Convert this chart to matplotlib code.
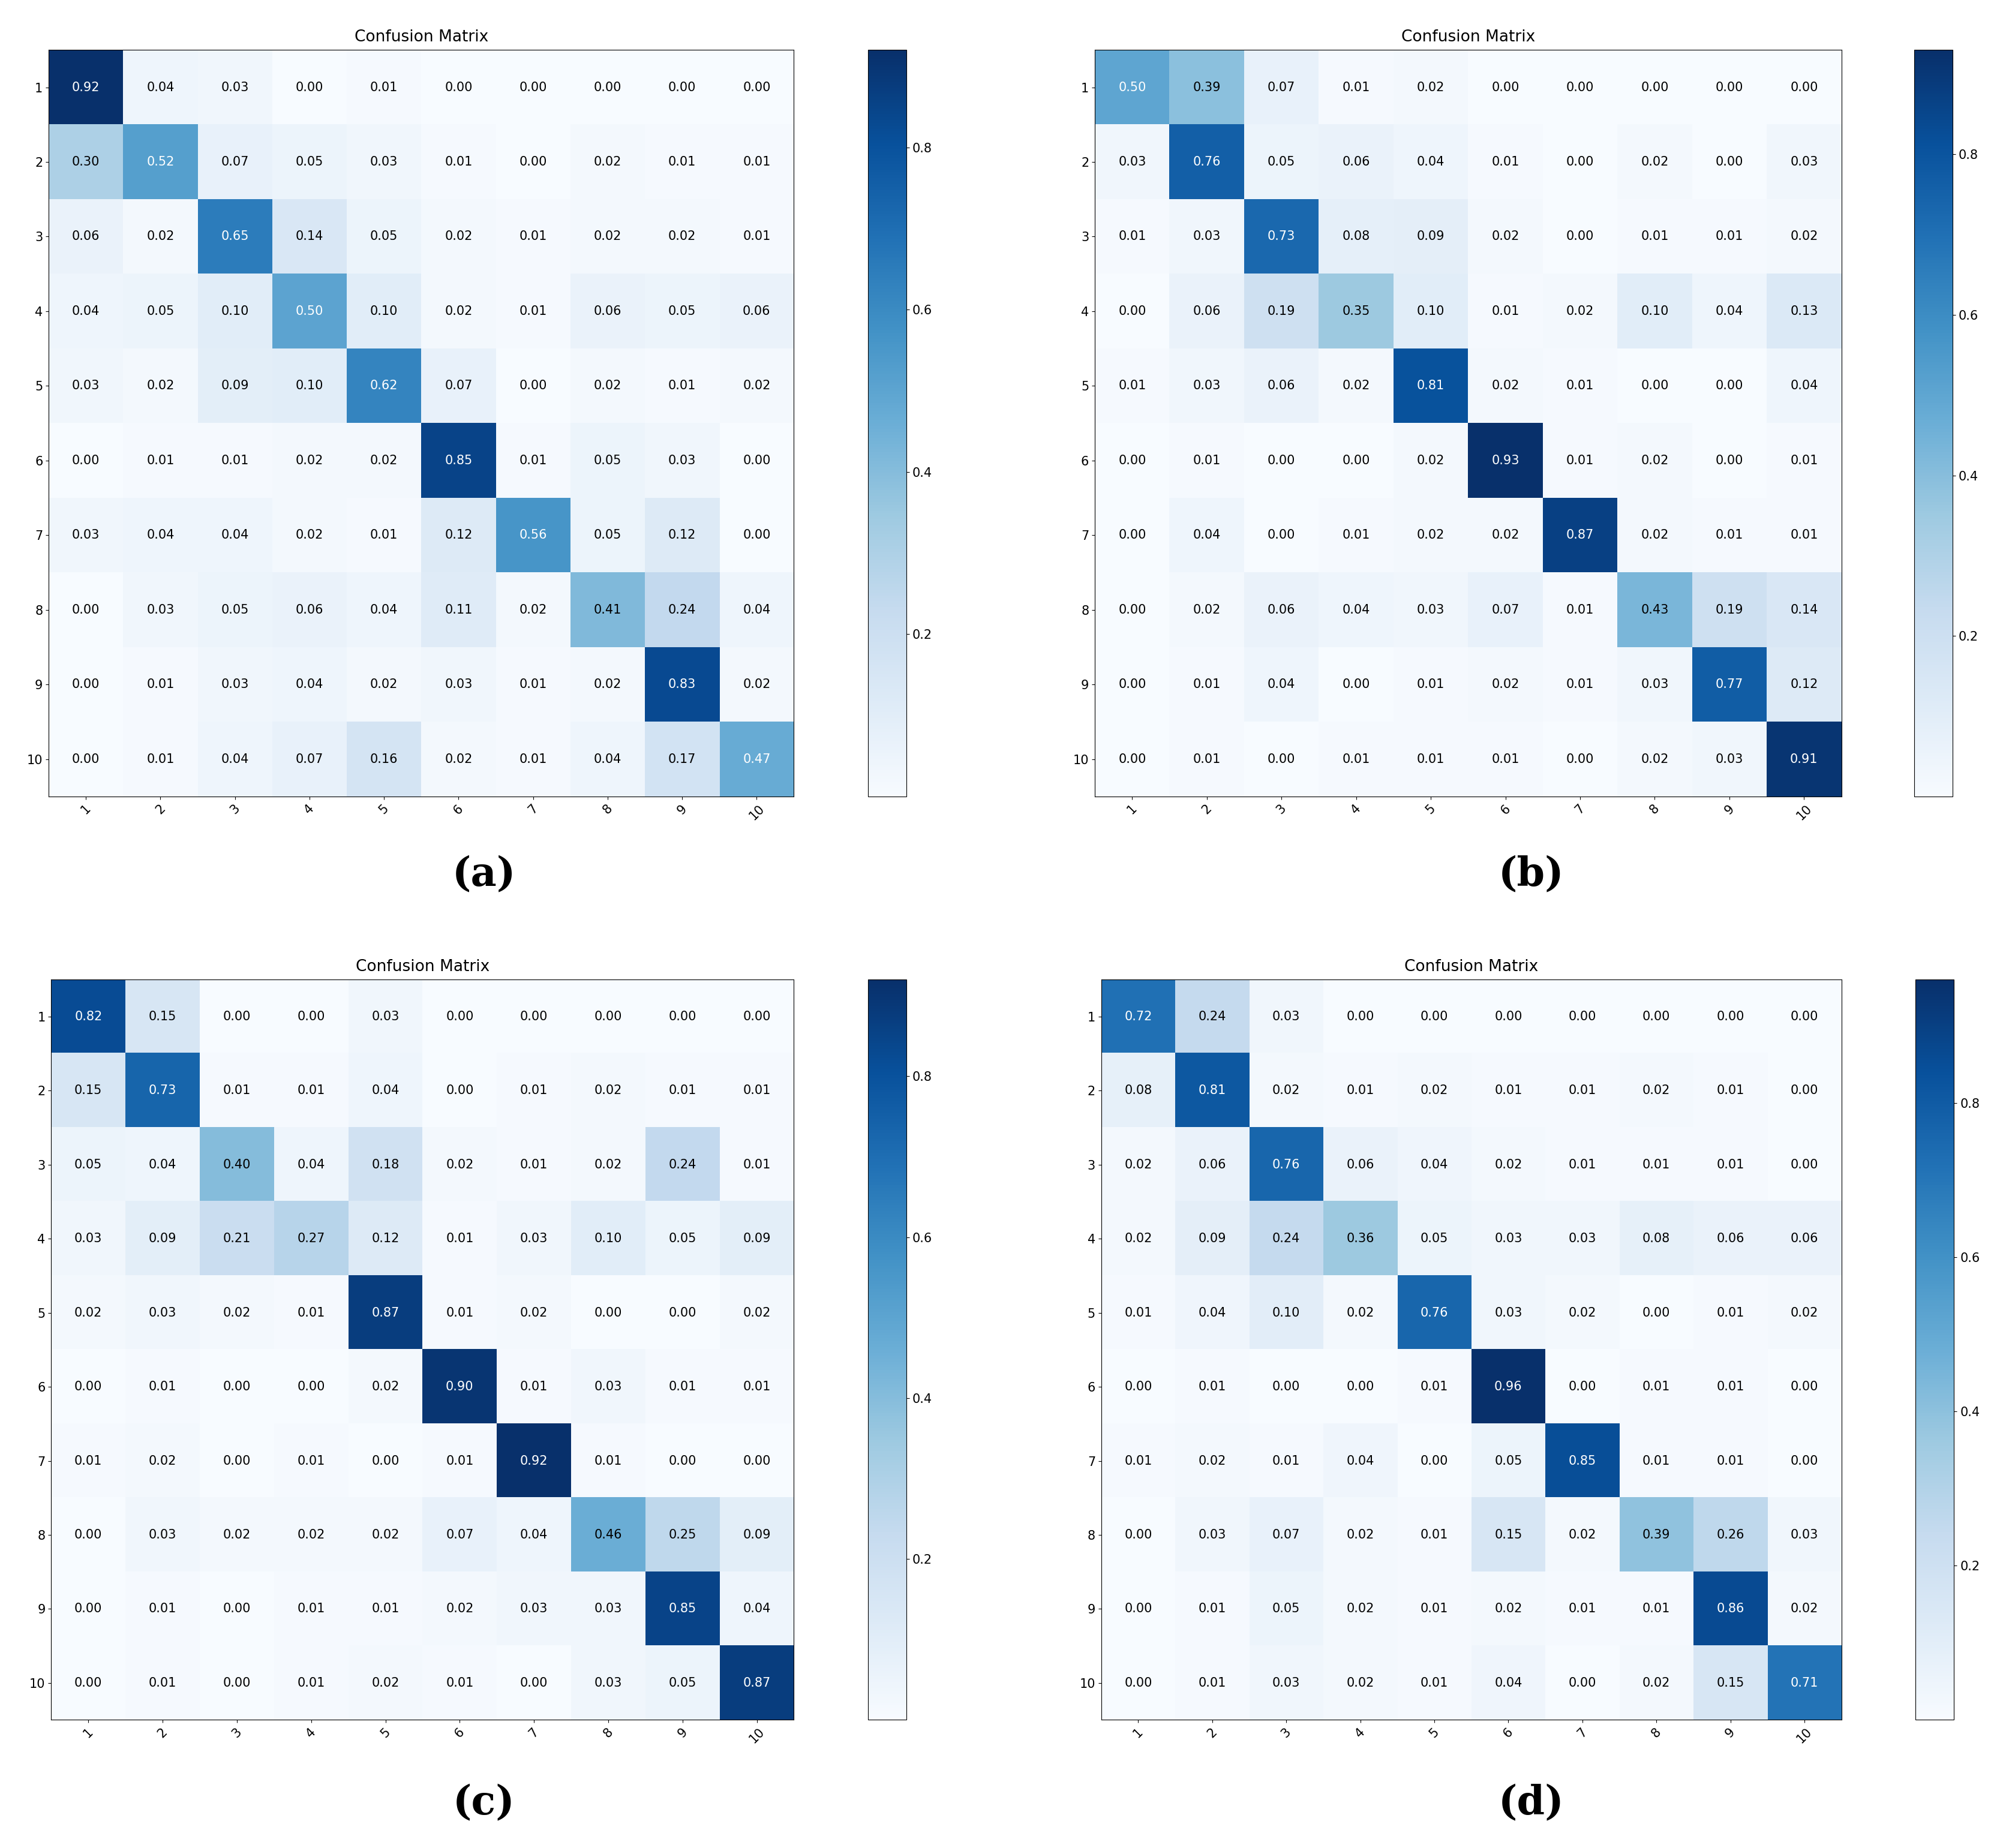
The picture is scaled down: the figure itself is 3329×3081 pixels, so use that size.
import matplotlib
matplotlib.use("Agg")
import matplotlib.pyplot as plt
import numpy as np

labels = [str(i) for i in range(1, 11)]

cm_a = [
[0.92,0.04,0.03,0.00,0.01,0.00,0.00,0.00,0.00,0.00],
[0.30,0.52,0.07,0.05,0.03,0.01,0.00,0.02,0.01,0.01],
[0.06,0.02,0.65,0.14,0.05,0.02,0.01,0.02,0.02,0.01],
[0.04,0.05,0.10,0.50,0.10,0.02,0.01,0.06,0.05,0.06],
[0.03,0.02,0.09,0.10,0.62,0.07,0.00,0.02,0.01,0.02],
[0.00,0.01,0.01,0.02,0.02,0.85,0.01,0.05,0.03,0.00],
[0.03,0.04,0.04,0.02,0.01,0.12,0.56,0.05,0.12,0.00],
[0.00,0.03,0.05,0.06,0.04,0.11,0.02,0.41,0.24,0.04],
[0.00,0.01,0.03,0.04,0.02,0.03,0.01,0.02,0.83,0.02],
[0.00,0.01,0.04,0.07,0.16,0.02,0.01,0.04,0.17,0.47]]

cm_b = [
[0.50,0.39,0.07,0.01,0.02,0.00,0.00,0.00,0.00,0.00],
[0.03,0.76,0.05,0.06,0.04,0.01,0.00,0.02,0.00,0.03],
[0.01,0.03,0.73,0.08,0.09,0.02,0.00,0.01,0.01,0.02],
[0.00,0.06,0.19,0.35,0.10,0.01,0.02,0.10,0.04,0.13],
[0.01,0.03,0.06,0.02,0.81,0.02,0.01,0.00,0.00,0.04],
[0.00,0.01,0.00,0.00,0.02,0.93,0.01,0.02,0.00,0.01],
[0.00,0.04,0.00,0.01,0.02,0.02,0.87,0.02,0.01,0.01],
[0.00,0.02,0.06,0.04,0.03,0.07,0.01,0.43,0.19,0.14],
[0.00,0.01,0.04,0.00,0.01,0.02,0.01,0.03,0.77,0.12],
[0.00,0.01,0.00,0.01,0.01,0.01,0.00,0.02,0.03,0.91]]

cm_c = [
[0.82,0.15,0.00,0.00,0.03,0.00,0.00,0.00,0.00,0.00],
[0.15,0.73,0.01,0.01,0.04,0.00,0.01,0.02,0.01,0.01],
[0.05,0.04,0.40,0.04,0.18,0.02,0.01,0.02,0.24,0.01],
[0.03,0.09,0.21,0.27,0.12,0.01,0.03,0.10,0.05,0.09],
[0.02,0.03,0.02,0.01,0.87,0.01,0.02,0.00,0.00,0.02],
[0.00,0.01,0.00,0.00,0.02,0.90,0.01,0.03,0.01,0.01],
[0.01,0.02,0.00,0.01,0.00,0.01,0.92,0.01,0.00,0.00],
[0.00,0.03,0.02,0.02,0.02,0.07,0.04,0.46,0.25,0.09],
[0.00,0.01,0.00,0.01,0.01,0.02,0.03,0.03,0.85,0.04],
[0.00,0.01,0.00,0.01,0.02,0.01,0.00,0.03,0.05,0.87]]

cm_d = [
[0.72,0.24,0.03,0.00,0.00,0.00,0.00,0.00,0.00,0.00],
[0.08,0.81,0.02,0.01,0.02,0.01,0.01,0.02,0.01,0.00],
[0.02,0.06,0.76,0.06,0.04,0.02,0.01,0.01,0.01,0.00],
[0.02,0.09,0.24,0.36,0.05,0.03,0.03,0.08,0.06,0.06],
[0.01,0.04,0.10,0.02,0.76,0.03,0.02,0.00,0.01,0.02],
[0.00,0.01,0.00,0.00,0.01,0.96,0.00,0.01,0.01,0.00],
[0.01,0.02,0.01,0.04,0.00,0.05,0.85,0.01,0.01,0.00],
[0.00,0.03,0.07,0.02,0.01,0.15,0.02,0.39,0.26,0.03],
[0.00,0.01,0.05,0.02,0.01,0.02,0.01,0.01,0.86,0.02],
[0.00,0.01,0.03,0.02,0.01,0.04,0.00,0.02,0.15,0.71]]

panels = [("(a)", cm_a), ("(b)", cm_b), ("(c)", cm_c), ("(d)", cm_d)]
W, H = 1560.0, 1443.0
# display-pixel boxes: axes left, right, top, bottom; colorbar left
boxes = [(38, 620, 39, 622, 678), (855, 1438, 39, 622, 1495),
         (40, 620, 765, 1343, 678), (860, 1438, 765, 1343, 1496)]
label_pos = [(378, 683), (1196, 683), (378, 1408), (1196, 1408)]

fig = plt.figure(figsize=(33.30, 30.81), dpi=100)
for (name, cm), (l, r, t, b, cl), (lx, ly) in zip(panels, boxes, label_pos):
    cm = np.array(cm)
    ax = fig.add_axes([l / W, 1 - b / H, (r - l) / W, (b - t) / H])
    im = ax.imshow(cm, cmap="Blues", aspect="auto", interpolation="nearest")
    ax.set_title("Confusion Matrix", fontsize=19, pad=10)
    ax.set_xticks(range(10))
    ax.set_xticklabels(labels, rotation=45, fontsize=15)
    ax.set_yticks(range(10))
    ax.set_yticklabels(labels, fontsize=15)
    thresh = cm.max() / 2
    for i in range(10):
        for j in range(10):
            ax.text(j, i, f"{cm[i, j]:.2f}", ha="center", va="center", fontsize=15,
                    color="white" if cm[i, j] > thresh else "black")
    cax = fig.add_axes([cl / W, 1 - b / H, 30 / W, (b - t) / H])
    cb = fig.colorbar(im, cax=cax)
    cb.set_ticks([0.2, 0.4, 0.6, 0.8])
    cb.ax.tick_params(labelsize=15)
    fig.text(lx / W, 1 - ly / H, name, ha="center", va="center", fontsize=48,
             family="DejaVu Serif", fontweight="bold")

fig.savefig("out.png", dpi=100)
